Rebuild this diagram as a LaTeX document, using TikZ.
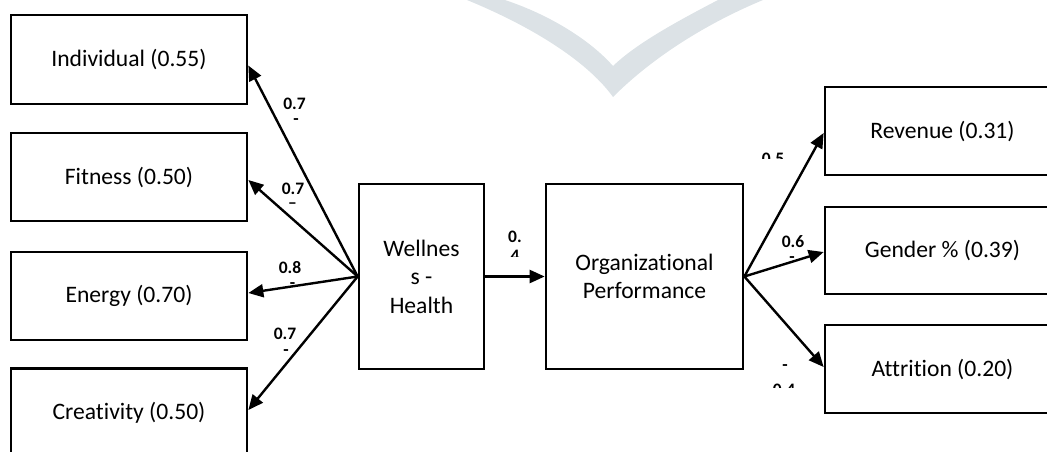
\documentclass[tikz,border=0pt]{standalone}
\usepackage{fontspec}
\setmainfont{Carlito}[Ligatures=NoCommon]
\usetikzlibrary{arrows.meta}
\definecolor{markgray}{RGB}{220,226,230}
\begin{document}
\begin{tikzpicture}[x=1pt,y=-1pt,
  box/.style={draw,line width=2.7pt,inner sep=0pt,align=center,
    font=\fontsize{23.6}{28.5}\selectfont},
  link/.style={line width=2.4pt,-{Triangle[length=15pt,width=13pt]}},
  coef/.style={inner sep=0pt,font=\fontsize{17.5}{21}\selectfont\bfseries}]
\useasboundingbox (0,0) rectangle (1047,451);
\clip (0,0) rectangle (1047,451);

% pale chevron in the upper part
\fill[markgray] (467,0) .. controls (540,30) and (590,65) .. (613,97)
  .. controls (655,55) and (710,22) .. (763,0) -- (718,0)
  .. controls (670,25) and (635,45) .. (613,66)
  .. controls (590,40) and (550,15) .. (505,0) -- cycle;

% indicator boxes on the left
\node[box,minimum width=236pt,minimum height=89pt] (ind) at (129,59.5) {Individual (0.55)};
\node[box,minimum width=236pt,minimum height=88pt] (fit) at (129,177) {Fitness (0.50)};
\node[box,minimum width=236pt,minimum height=88pt] (ene) at (129,296) {Energy (0.70)};
\node[box,minimum width=236pt,minimum height=89pt] (cre) at (129,413) {Creativity (0.50)};

% latent constructs
\node[box,minimum width=125pt,minimum height=185pt] (wel) at (421.5,276.5) {Wellnes\\s -\\Health};
\node[box,minimum width=197pt,minimum height=185pt] (org) at (644.5,276.5) {Organizational\\Performance};

% outcome boxes on the right
\node[box,minimum width=235pt,minimum height=88pt] (rev) at (942.5,131) {Revenue (0.31)};
\node[box,minimum width=235pt,minimum height=87pt] (gen) at (942.5,250.5) {Gender \% (0.39)};
\node[box,minimum width=235pt,minimum height=88pt] (att) at (942.5,369) {Attrition (0.20)};

% paths
\draw[link] (wel.west) -- ([yshift=-6pt]ind.east);
\draw[link] (wel.west) -- ([yshift=-3pt]fit.east);
\draw[link] (wel.west) -- ([yshift=3pt]ene.east);
\draw[link] (wel.west) -- ([yshift=3pt]cre.east);
\draw[link] (wel.east) -- (org.west);
\draw[link] (org.east) -- ([yshift=-2pt]rev.west);
\draw[link] (org.east) -- ([yshift=-1.5pt]gen.west);
\draw[link] (org.east) -- ([yshift=2pt]att.west);

% path coefficients
\node[coef] (c1) at (294.5,103.5) {0.7};
\node[coef,anchor=mid] (c1b) at (296,122) {-};
\node[coef] (c2) at (293,189) {0.7};
\node[coef,anchor=mid] (c2b) at (292.5,206) {–};
\node[coef] (c3) at (290,267.5) {0.8};
\node[coef,anchor=mid] (c3b) at (292.5,286) {-};
\node[coef] (c4) at (285,334) {0.7};
\node[coef,anchor=mid] (c4b) at (286,353) {-};

\node[coef] (c5) at (515,237) {0.};
\begin{scope}
  \clip (500,244) rectangle (530,256.5);
  \node[coef,anchor=base] (c5b) at (515,261) {4};
\end{scope}

\begin{scope}
  \clip (755,140) rectangle (795,158);
  \node[coef,anchor=base] (c6) at (773,164) {0.5};
\end{scope}
\node[coef] (c7) at (793,242) {0.6};
\node[coef,anchor=mid] (c7b) at (792,260) {-};
\node[coef,anchor=mid] (c8) at (785,368) {-};
\begin{scope}
  \clip (765,376) rectangle (805,387.5);
  \node[coef,anchor=base] (c8b) at (784,395) {0.4};
\end{scope}
\end{tikzpicture}
\end{document}
